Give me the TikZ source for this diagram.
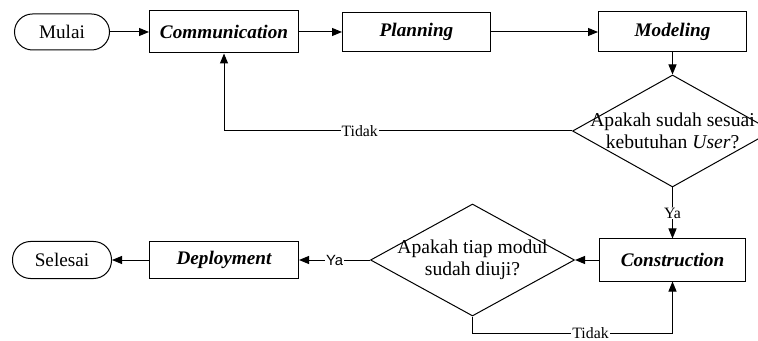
\documentclass[tikz,border=0pt]{standalone}
\usepackage{fontspec}
\setmainfont{Liberation Serif}
\newfontfamily\arialfont{Liberation Sans}
\usetikzlibrary{shapes.geometric,arrows.meta,positioning}
\tikzset{
  basebox/.style={rectangle,draw=black,line width=0.5pt,align=center,
                  inner sep=0pt,font=\fontsize{9.6}{11}\selectfont},
  procnode/.style={basebox,font=\fontsize{9.6}{11}\selectfont\bfseries\itshape,
                   minimum width=74pt,minimum height=20pt},
  termnode/.style={basebox,rounded corners=9pt,minimum height=18.5pt},
  decnode/.style={diamond,draw=black,line width=0.5pt,inner sep=0pt,
                  minimum width=100pt,minimum height=56pt},
  dectext/.style={align=center,font=\fontsize{9.8}{11}\selectfont},
  arr/.style={-{Triangle[length=5pt,width=4pt]},line width=0.5pt},
  lbl/.style={font=\fontsize{7.9}{9}\selectfont,fill=white,inner sep=0.5pt}
}
\begin{document}
\begin{tikzpicture}
  \useasboundingbox (0,0) rectangle (379pt,-170.5pt);
  \node[termnode,minimum width=47.5pt,minimum height=18pt] (mulai) at (31pt,-16pt) {Mulai};
  \node[procnode,minimum width=74.5pt,minimum height=21pt,right=19.5pt of mulai] (comm) {Communication};
  \node[procnode,minimum height=19.5pt,right=21.5pt of comm] (plan) {Planning};
  \node[procnode,right=53.5pt of plan] (model) {Modeling};
  \node[decnode,below=11pt of model,
        label={[dectext]center:{Apakah sudah sesuai\\kebutuhan \textit{User}?}}] (cekuser) {};
  \node[procnode,minimum width=73pt,minimum height=21pt,below=25.5pt of cekuser] (constr) {Construction};
  \node[decnode,minimum width=102pt,left=12pt of constr,
        label={[dectext]center:{Apakah tiap modul\\sudah diuji?}}] (cekmodul) {};
  \node[procnode,minimum width=74.5pt,minimum height=18.5pt,left=35.5pt of cekmodul] (deploy) {Deployment};
  \node[termnode,minimum width=49.5pt,left=18.5pt of deploy] (selesai) {Selesai};

  \draw[arr] (mulai) -- (comm);
  \draw[arr] (comm) -- (plan);
  \draw[arr] (plan) -- (model);
  \draw[arr] (model) -- (cekuser);
  \draw[arr] (cekuser.west) -| (comm.south) node[lbl,pos=0.305]{Tidak};
  \draw[arr] (cekuser) -- (constr) node[lbl,midway]{Ya};
  \draw[arr] (constr) -- (cekmodul);
  \draw[arr] (cekmodul) -- (deploy)
      node[lbl,midway,font=\arialfont\fontsize{7.4}{9}\selectfont]{Ya};
  \draw[arr] (deploy) -- (selesai);
  \draw[arr] (cekmodul.south) -- ++(0,-8.5pt) -| (constr.south)
      node[lbl,pos=0.295]{Tidak};
\end{tikzpicture}
\end{document}
